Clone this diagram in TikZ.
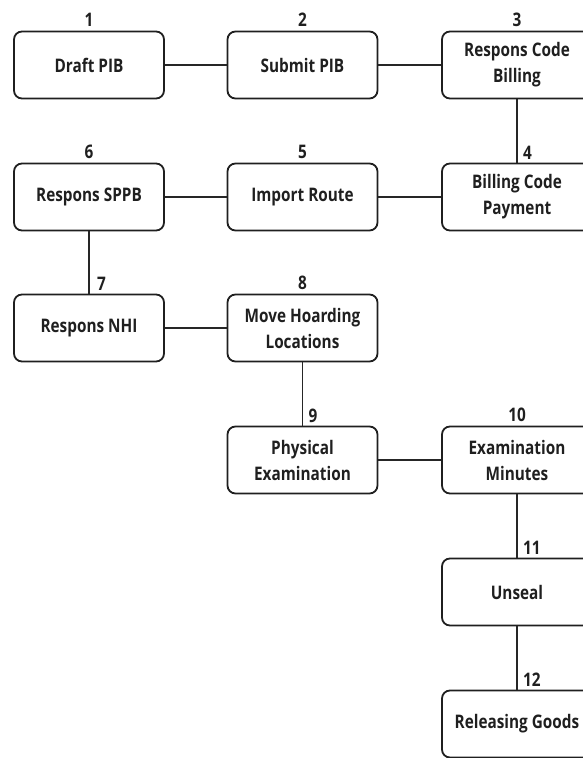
\documentclass[tikz,border=0pt]{standalone}
\usepackage{fontspec}
\setmainfont{Open Sans}[FakeStretch=0.82]
\usetikzlibrary{positioning}

\tikzset{
  stepbox/.style={draw=black!88,line width=1.8pt,rounded corners=8pt,minimum width=150pt,minimum height=67pt,inner sep=0pt,align=center,text=black!88,font=\fontsize{18.7}{26}\selectfont\bfseries},
  num/.style={inner sep=0pt,text=black!88,font=\fontsize{18.7}{22}\selectfont\bfseries},
  link/.style={draw=black!85,line width=1.8pt}
}

\begin{document}
\begin{tikzpicture}[x=1pt,y=-1pt]
\clip(0,0)rectangle(583,758);
% steps
\node[stepbox](draft)at(89,65){Draft PIB};
\node[stepbox](submit)at(302.5,65){Submit PIB};
\node[stepbox](code)at(517,65){Respons Code\\Billing};
\node[stepbox](payment)at(517,197){Billing Code\\Payment};
\node[stepbox](route)at(302.5,197){Import Route};
\node[stepbox](sppb)at(89,197){Respons SPPB};
\node[stepbox](nhi)at(89,328){Respons NHI};
\node[stepbox](hoarding)at(302.5,328){Move Hoarding\\Locations};
\node[stepbox](physical)at(302.5,460){Physical\\Examination};
\node[stepbox](minutes)at(517,460){Examination\\Minutes};
\node[stepbox](unseal)at(517,592){Unseal};
\node[stepbox](release)at(517,724){Releasing Goods};
% numbers
\node[num,above=4pt of draft]{1};
\node[num,above=4pt of submit]{2};
\node[num,above=4pt of code]{3};
\node[num,above right=3pt and 6pt of payment.north]{4};
\node[num,above=4pt of route]{5};
\node[num,above=4pt of sppb]{6};
\node[num,above right=3pt and 8pt of nhi.north]{7};
\node[num,above=4pt of hoarding]{8};
\node[num,above right=3pt and 6pt of physical.north]{9};
\node[num,above=4pt of minutes]{10};
\node[num,above right=3pt and 6pt of unseal.north]{11};
\node[num,above right=3pt and 6pt of release.north]{12};
% links
\draw[link](draft)--(submit);
\draw[link](submit)--(code);
\draw[link](code)--(payment);
\draw[link](payment)--(route);
\draw[link](route)--(sppb);
\draw[link](sppb)--(nhi);
\draw[link](nhi)--(hoarding);
\draw[link](hoarding)--(physical);
\draw[link](physical)--(minutes);
\draw[link](minutes)--(unseal);
\draw[link](unseal)--(release);
\end{tikzpicture}
\end{document}
